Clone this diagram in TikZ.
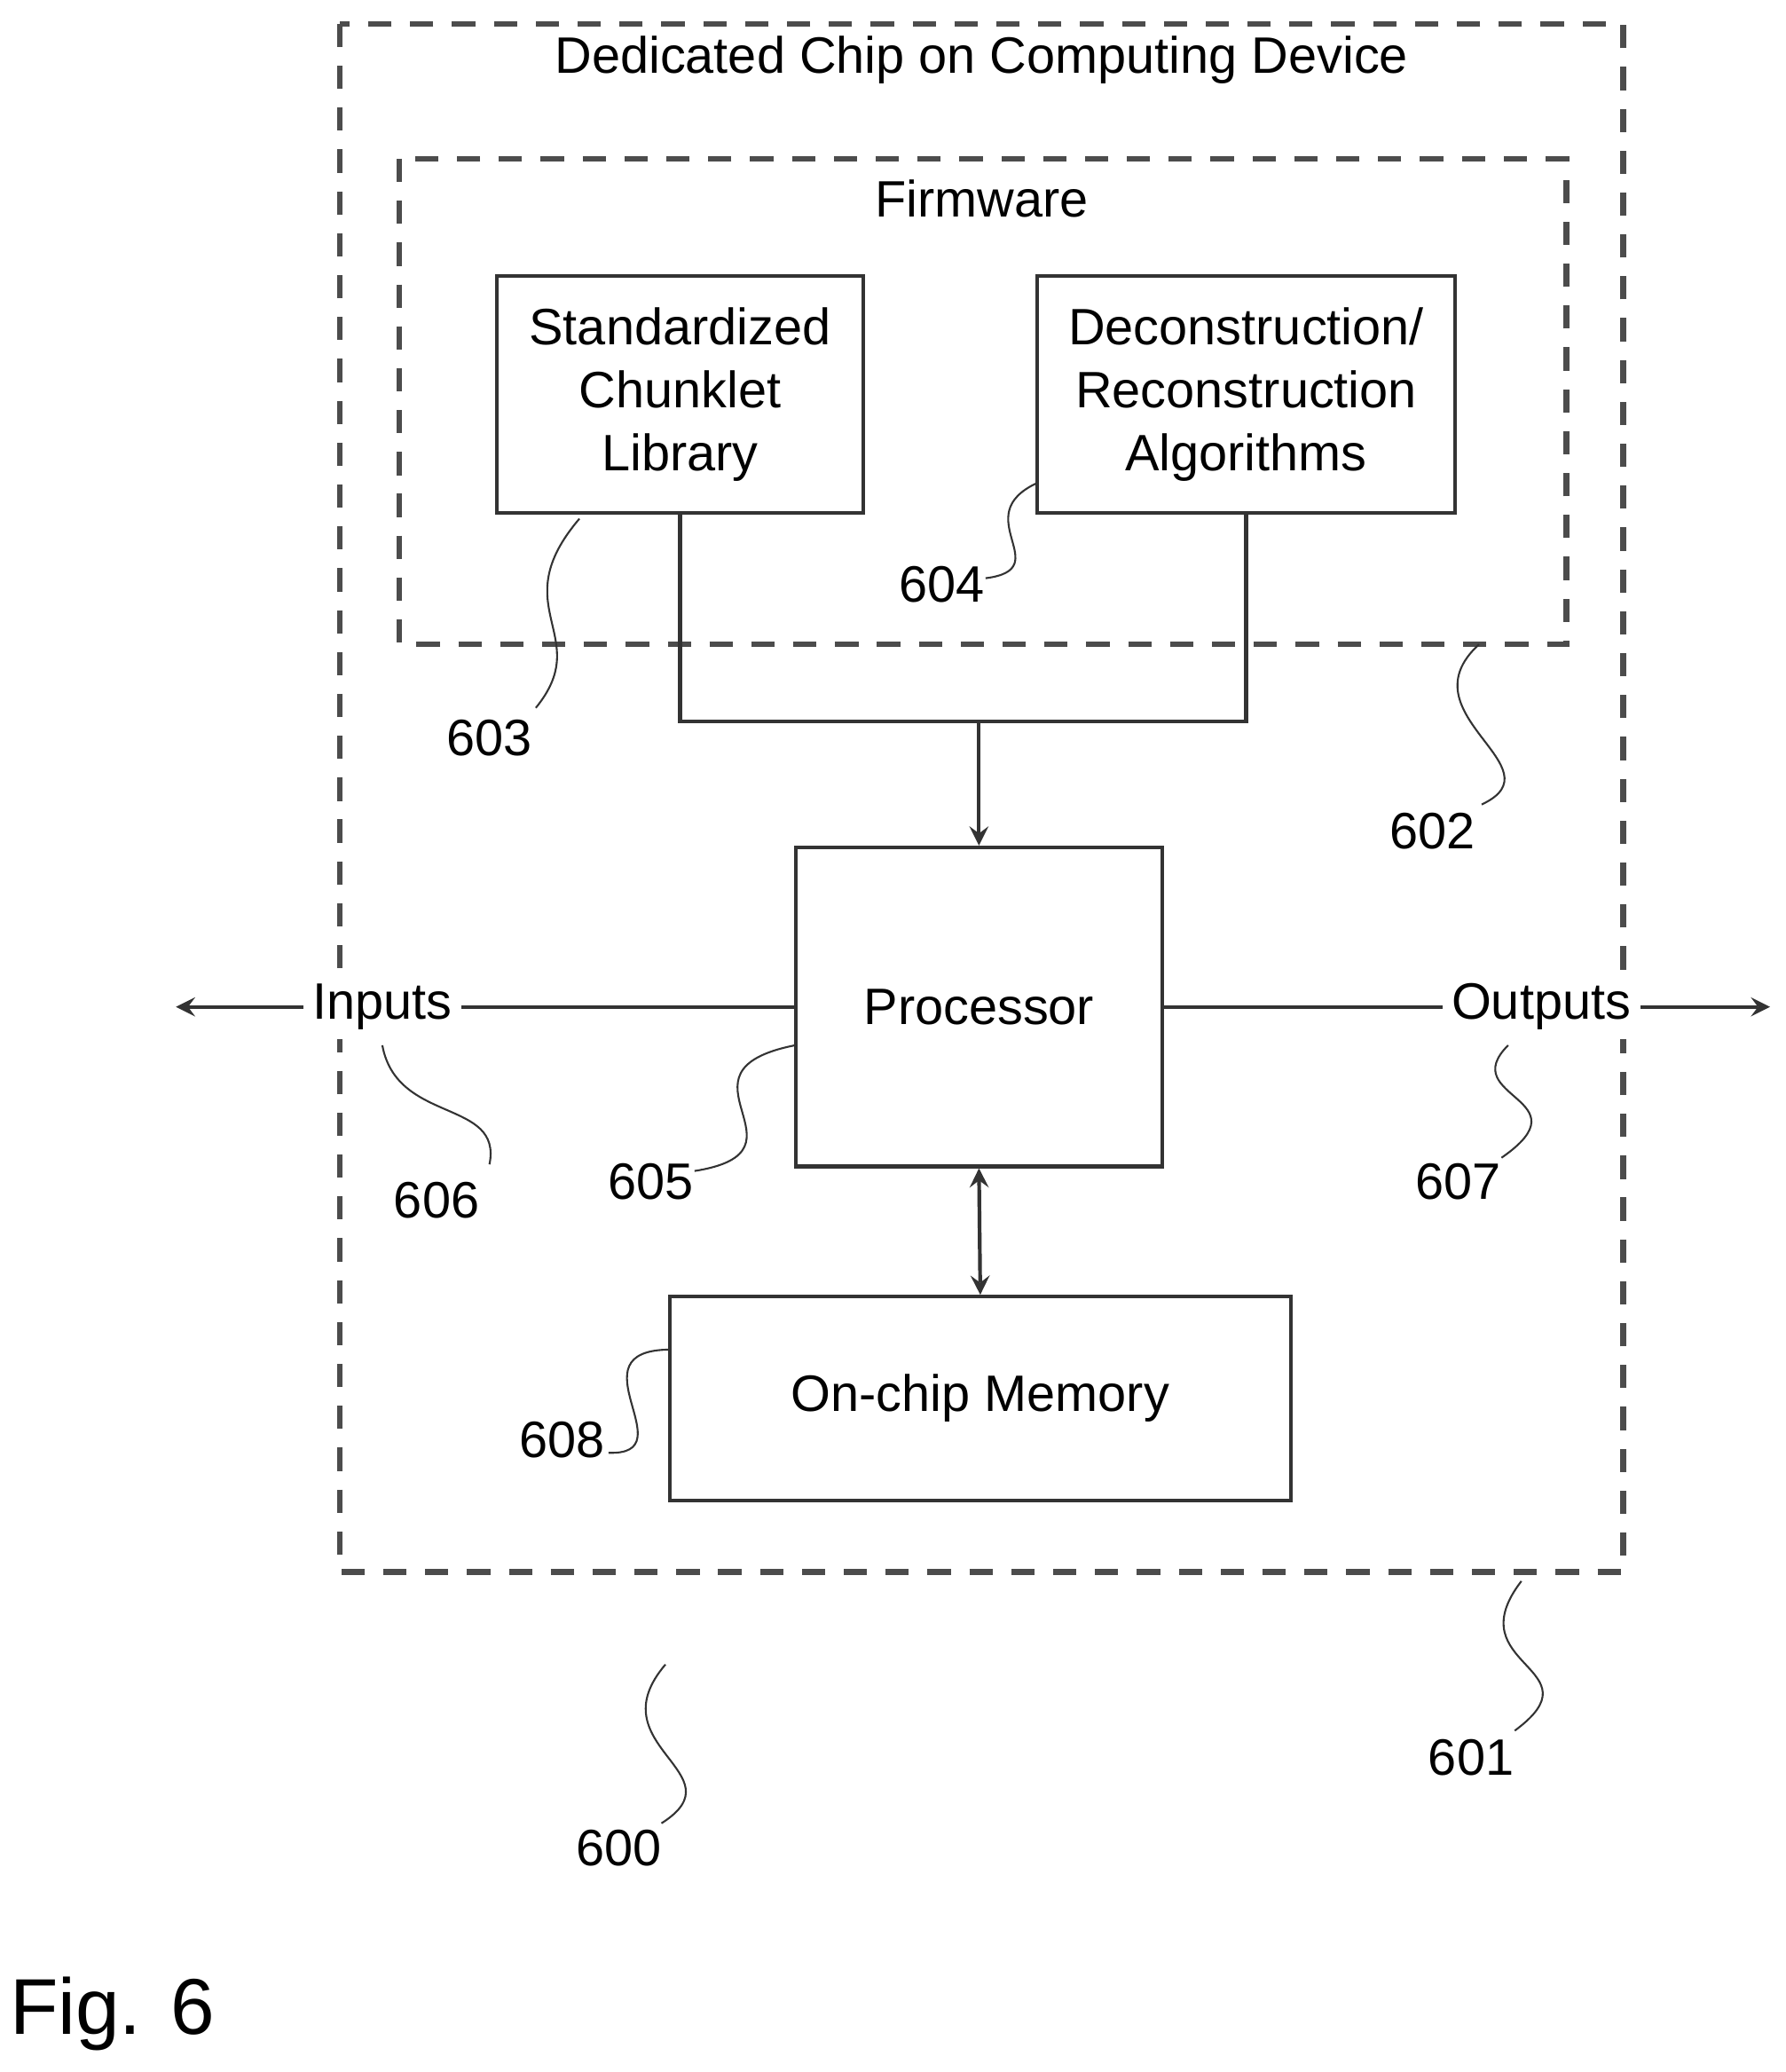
\documentclass[tikz,border=0pt]{standalone}
\usepackage{fontspec}
\setmainfont{Liberation Sans}
\usetikzlibrary{positioning}
\begin{document}
\begin{tikzpicture}[x=0.01cm,y=-0.01cm,>=stealth,font=\fontsize{11}{13.5}\selectfont]
  \tikzstyle{block}=[draw=black!80,thick,inner sep=0pt,align=center]
  \tikzstyle{dashbox}=[draw=black!70,very thick,dash pattern=on 5pt off 4pt]
  \tikzstyle{ref}=[inner sep=1pt]
  \tikzstyle{squig}=[draw=black!80]
  \useasboundingbox (0,0) rectangle (1350,1566);

  % dashed boxes
  \draw[dashbox] (257,18) rectangle (1227,1188);
  \draw[dashbox] (302,120) rectangle (1184,487);
  \node (chip) at (742,45) {Dedicated Chip on Computing Device};
  \node (fw) at (742,150) {Firmware};

  % blocks
  \node[block,minimum width=2.77cm,minimum height=1.79cm] (lib) at (514,298) {Standardized\\Chunklet\\Library};
  \node[block,minimum width=3.16cm,minimum height=1.79cm] (algo) at (942,298) {Deconstruction/\\Reconstruction\\Algorithms};
  \node[block,minimum width=2.77cm,minimum height=2.41cm] (proc) at (740,761) {Processor};
  \node[block,minimum width=4.69cm,minimum height=1.54cm] (mem) at (741,1057) {On-chip Memory};

  \coordinate (join) at (740,545);
  \draw[thick,black!80] (lib.south) |- (join) -| (algo.south);
  \draw[thick,black!80,->] (join) -- (proc.north);
  \draw[thick,black!80,<->] (proc.south) -- (mem.north);

  % inputs / outputs
  \coordinate (inend) at (133,761);
  \coordinate (outend) at (1338,761);
  \draw[thick,black!80,->] (proc.west) -- (inend);
  \draw[thick,black!80,->] (proc.east) -- (outend);
  \node[fill=white,inner sep=2pt] (in) at (289,761) {Inputs};
  \node[fill=white,inner sep=2pt] (out) at (1165,761) {Outputs};

  % reference numerals
  \node[ref] (n603) at (370,558) {603};
  \node[ref] (n604) at (712,442) {604};
  \node[ref] (n602) at (1083,628) {602};
  \node[ref] (n605) at (492,893) {605};
  \node[ref] (n606) at (330,907) {606};
  \node[ref] (n607) at (1102,893) {607};
  \node[ref] (n608) at (425,1088) {608};
  \node[ref] (n601) at (1112,1328) {601};
  \node[ref] (n600) at (468,1397) {600};
  \node[font=\fontsize{17}{20}\selectfont] (fig) at (85,1522) {Fig. 6};

  \draw[squig] (438,392) .. controls (380,460) and (450,480) .. (405,535);
  \draw[squig] (784,365) .. controls (730,390) and (800,430) .. (745,437);
  \draw[squig] (1118,487) .. controls (1060,540) and (1180,580) .. (1120,608);
  \draw[squig] (601,790) .. controls (500,810) and (620,870) .. (525,885);
  \draw[squig] (289,790) .. controls (300,850) and (380,830) .. (370,880);
  \draw[squig] (1140,790) .. controls (1100,830) and (1200,830) .. (1135,875);
  \draw[squig] (507,1020) .. controls (430,1020) and (520,1100) .. (460,1098);
  \draw[squig] (1150,1195) .. controls (1100,1260) and (1210,1260) .. (1145,1308);
  \draw[squig] (503,1258) .. controls (450,1320) and (560,1340) .. (500,1378);
\end{tikzpicture}
\end{document}
